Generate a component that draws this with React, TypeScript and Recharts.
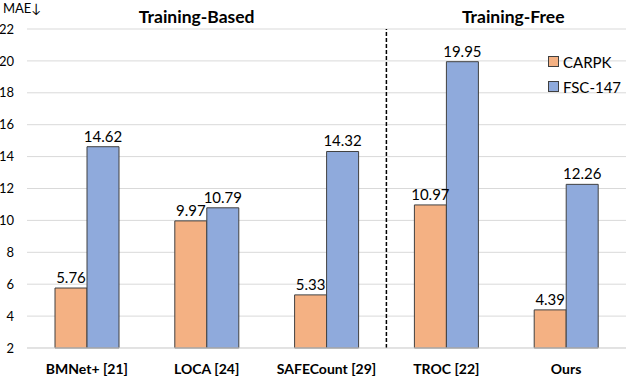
import React from "react";
import {
  BarChart,
  Bar,
  XAxis,
  YAxis,
  CartesianGrid,
  LabelList,
  ReferenceLine,
  ReferenceArea,
} from "recharts";

const methods = ["BMNet+ [21]", "LOCA [24]", "SAFECount [29]", "TROC [22]", "Ours"];
const carpk = [5.76, 9.97, 5.33, 10.97, 4.39];
const fsc147 = [14.62, 10.79, 14.32, 19.95, 12.26];
const yTicks = [2, 4, 6, 8, 10, 12, 14, 16, 18, 20, 22];
const seriesNames = ["CARPK", "FSC-147"];
const seriesColors = ["#F4B183", "#8FAADC"];

// slot = centre of each category on a 0..5 numeric scale, used to place the divider and group titles
const data = methods.map((m, i) => ({ name: m, slot: i + 0.5, carpk: carpk[i], fsc: fsc147[i] }));

const FONT = "Lato, 'Open Sans', sans-serif";

const LegendBox = () => (
  <div style={{ position: "absolute", left: 548, top: 49, fontFamily: FONT, fontSize: 15, color: "#000" }}>
    {seriesNames.map((label, i) => (
      <div key={label} style={{ display: "flex", alignItems: "center", height: 25 }}>
        <span
          style={{
            width: 9,
            height: 9,
            background: seriesColors[i],
            border: "1px solid #404040",
            marginRight: 4,
            display: "inline-block",
          }}
        />
        {label}
      </div>
    ))}
  </div>
);

export default function App() {
  return (
    <div style={{ position: "fixed", left: 0, top: 0, width: 626, height: 376, background: "#fff" }}>
      <div style={{ position: "absolute", left: 3, top: 0, fontFamily: FONT, fontSize: 13 }}>MAE↓</div>
      <BarChart
        width={626}
        height={376}
        data={data}
        margin={{ top: 29, right: 0, bottom: 0, left: 0 }}
        barGap={0}
        barCategoryGap={28}
      >
        <CartesianGrid vertical={false} stroke="#d9d9d9" />
        <XAxis
          dataKey="name"
          axisLine={{ stroke: "#d9d9d9" }}
          tickLine={false}
          height={28}
          tickMargin={10}
          tick={{ fontFamily: FONT, fontSize: 14, fontWeight: 700, fill: "#000" }}
        />
        <XAxis xAxisId="div" dataKey="slot" type="number" domain={[0, 5]} allowDataOverflow hide />
        <YAxis
          domain={[2, 22]}
          ticks={yTicks}
          width={27}
          axisLine={false}
          tickLine={false}
          tickSize={0}
          tickMargin={13}
          tick={{ fontFamily: FONT, fontSize: 13, fill: "#000" }}
        />
        <ReferenceLine
          xAxisId="div"
          x={3}
          stroke="#000"
          strokeWidth={1.5}
          strokeDasharray="4 2"
        />
        <ReferenceArea
          xAxisId="div"
          x1={0}
          x2={3}
          y1={22}
          y2={22}
          fillOpacity={0}
          strokeOpacity={0}
          ifOverflow="visible"
          label={{ value: "Training-Based", position: "top", offset: 6, dx: -10, fontFamily: FONT, fontSize: 17.5, fontWeight: 700, fill: "#000" }}
        />
        <ReferenceArea
          xAxisId="div"
          x1={3}
          x2={5}
          y1={22}
          y2={22}
          fillOpacity={0}
          strokeOpacity={0}
          ifOverflow="visible"
          label={{ value: "Training-Free", position: "top", offset: 6, dx: 7, fontFamily: FONT, fontSize: 17.5, fontWeight: 700, fill: "#000" }}
        />
        <Bar dataKey="carpk" name="CARPK" fill={seriesColors[0]} stroke="#404040" strokeWidth={1} isAnimationActive={false}>
          <LabelList dataKey="carpk" position="top" offset={5} style={{ fontFamily: FONT, fontSize: 15, fill: "#000" }} />
        </Bar>
        <Bar dataKey="fsc" name="FSC-147" fill={seriesColors[1]} stroke="#404040" strokeWidth={1} isAnimationActive={false}>
          <LabelList dataKey="fsc" position="top" offset={5} style={{ fontFamily: FONT, fontSize: 15, fill: "#000" }} />
        </Bar>
      </BarChart>
      <LegendBox />
    </div>
  );
}
